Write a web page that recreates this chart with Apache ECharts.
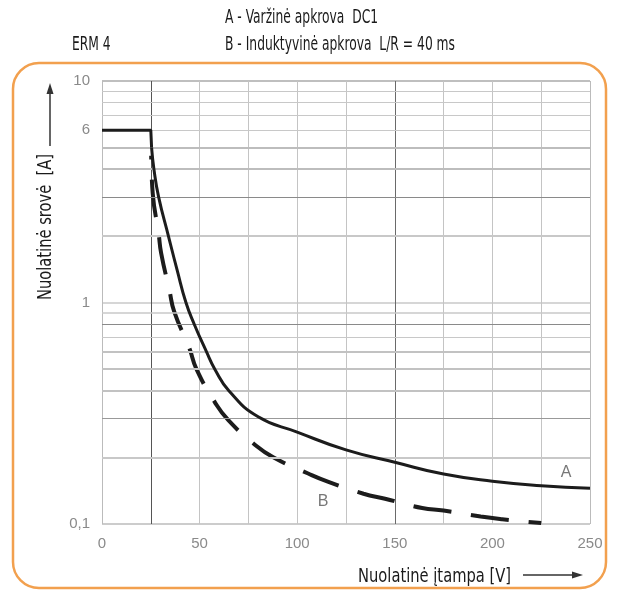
<!DOCTYPE html>
<html>
<head>
<meta charset="utf-8">
<script src="https://cdn.jsdelivr.net/npm/echarts@6/dist/echarts.min.js"></script>
<style>
html,body{margin:0;padding:0;background:#fff;}
#c{width:617px;height:591px;}
</style>
</head>
<body>
<div id="c"></div>
<script>
// ---- data ----
const modelName = 'ERM 4';
const legendA = 'A - Varžinė apkrova  DC1';
const legendB = 'B - Induktyvinė apkrova  L/R = 40 ms';
const yTitle = 'Nuolatinė srovė  [A]';
const xTitle = 'Nuolatinė įtampa [V]';
const xTickValues = [0, 50, 100, 150, 200, 250];
const yExtraLabels = [6];
const minorGridValues = [9, 8, 7, 6, 5, 4, 3, 2, 0.9, 0.8, 0.7, 0.6, 0.5, 0.4, 0.3, 0.2];
const seriesAFlat = [[0,6],[25,6],[25.4,5]];
const seriesA = [[25.4,5],[26.6,4],[29,3],[34,2],[38.5,1.4],[43,1],[47.2,0.8],[53.5,0.6],[57.8,0.5],[65,0.4],[80,0.305],[100,0.26],[125,0.216],[150,0.19],[175,0.168],[200,0.156],[225,0.149],[250,0.145]];
const seriesB = [[25.2,4.6],[26,3.1],[29,2.05],[30.3,1.67],[34.5,1.14],[37,0.91],[44.8,0.62],[48.4,0.5],[57.7,0.356],[64.6,0.295],[78.3,0.228],[87.7,0.2],[105.6,0.169],[116,0.155],[134,0.137],[145,0.13],[164,0.118],[175,0.115],[194,0.108],[205,0.105],[225,0.101]];
const curveLabels = [[237.8,0.17,'A'],[113.3,0.126,'B']];

// ---- styles ----
const cond = "'DejaVu Sans Condensed','DejaVu Sans',sans-serif";
const arial = "'Liberation Sans',Arial,sans-serif";
const minorStyle = {
  9:['#c8c8c8',1], 8:['#c8c8c8',1], 7:['#c8c8c8',1], 6:['#c8c8c8',1],
  5:['#bdbdbd',2], 4:['#bdbdbd',2], 3:['#8a8a8a',1], 2:['#c8c8c8',2],
  0.9:['#c8c8c8',1.5], 0.8:['#8a8a8a',1], 0.7:['#c8c8c8',1], 0.6:['#c2c2c2',2],
  0.5:['#c2c2c2',2], 0.4:['#c2c2c2',2], 0.3:['#999',1], 0.2:['#c8c8c8',2]
};

const chart = echarts.init(document.getElementById('c'), null, {renderer:'canvas'});

const markData = minorGridValues.map(v => {
  const st = minorStyle[v] || ['#c8c8c8',1];
  const showLab = yExtraLabels.indexOf(v) >= 0;
  return {
    yAxis: v,
    lineStyle: {color: st[0], width: st[1], type: 'solid'},
    label: showLab ? {show:true, position:'start', formatter: String(v), color:'#8a8a8a', fontSize:15, fontFamily: arial, distance: 12} : {show:false}
  };
});

const curveStyle = {color: '#1c1c1c', width: 3};

const option = {
  animation: false,
  grid: {left: 102, right: 27, top: 81, bottom: 67},
  xAxis: {
    type: 'value', min: 0, max: 250, interval: 25,
    axisLine: {show: false}, axisTick: {show: false},
    axisLabel: {
      margin: 12, color: '#8a8a8a', fontSize: 15, fontFamily: arial,
      formatter: v => xTickValues.indexOf(v) >= 0 ? String(v) : ''
    },
    splitLine: {show: true, lineStyle: {width: 1, color: ['#bbb','#555','#c4c4c4','#c4c4c4','#c4c4c4','#c4c4c4','#6a6a6a','#c4c4c4','#c4c4c4','#c4c4c4','#bbb']}}
  },
  yAxis: {
    type: 'log', logBase: 10, min: 0.1, max: 10,
    axisLine: {show: false}, axisTick: {show: false},
    axisLabel: {
      margin: 12, color: '#8a8a8a', fontSize: 15, fontFamily: arial,
      formatter: v => String(v).replace('.', ',')
    },
    splitLine: {show: true, lineStyle: {width: 1.5, color: ['#bbb','#c8c8c8','#aaa']}}
  },
  series: [
    {
      type: 'line', data: [[0, 0.1]], symbol: 'none', silent: true, z: 1,
      lineStyle: {opacity: 0},
      markLine: {silent: true, symbol: ['none','none'], animation: false, data: markData}
    },
    {
      name: 'A', type: 'line', data: seriesAFlat, symbol: 'none', smooth: false, z: 5,
      lineStyle: curveStyle
    },
    {
      name: 'A', type: 'line', data: seriesA, symbol: 'none', smooth: 0.5, z: 5,
      lineStyle: curveStyle
    },
    {
      name: 'B', type: 'line', data: seriesB, symbol: 'none', smooth: 0.5, z: 4,
      lineStyle: {color: '#1c1c1c', width: 4, type: [38, 20], dashOffset: 34}
    },
    {
      type: 'scatter', data: curveLabels, symbolSize: 0, z: 6, silent: true,
      label: {show: true, position: 'inside', formatter: p => p.data[2], color: '#555', fontSize: 16, fontFamily: arial}
    }
  ],
  graphic: [
    {type:'rect', shape:{x:13, y:63, width:593, height:525, r:26}, style:{fill:'none', stroke:'#f2a04e', lineWidth:2.5}, z: 0},
    {type:'text', x: 72, y: 45, scaleX: 0.72, style:{text: modelName, font: '19px ' + cond, fill:'#1a1a1a', verticalAlign:'middle'}},
    {type:'text', x: 225, y: 18, scaleX: 0.72, style:{text: legendA, font: '19px ' + cond, fill:'#1a1a1a', verticalAlign:'middle'}},
    {type:'text', x: 225, y: 45, scaleX: 0.72, style:{text: legendB, font: '19px ' + cond, fill:'#1a1a1a', verticalAlign:'middle'}},
    {type:'text', x: 46, y: 227, rotation: Math.PI/2, scaleX: 0.86, style:{text: yTitle, font: '19px ' + cond, fill:'#1a1a1a', align:'center', verticalAlign:'middle'}},
    {type:'line', shape:{x1:50, y1:146, x2:50, y2:92}, style:{stroke:'#333', lineWidth:1.5}},
    {type:'polygon', shape:{points:[[50,83],[46.5,94],[53.5,94]]}, style:{fill:'#333'}},
    {type:'text', x: 511, y: 577, scaleX: 0.86, style:{text: xTitle, font: '19px ' + cond, fill:'#1a1a1a', align:'right', verticalAlign:'middle'}},
    {type:'line', shape:{x1:523, y1:575, x2:573, y2:575}, style:{stroke:'#333', lineWidth:1.5}},
    {type:'polygon', shape:{points:[[583,575],[572,571.5],[572,578.5]]}, style:{fill:'#333'}}
  ]
};
chart.setOption(option);
</script>
</body>
</html>
